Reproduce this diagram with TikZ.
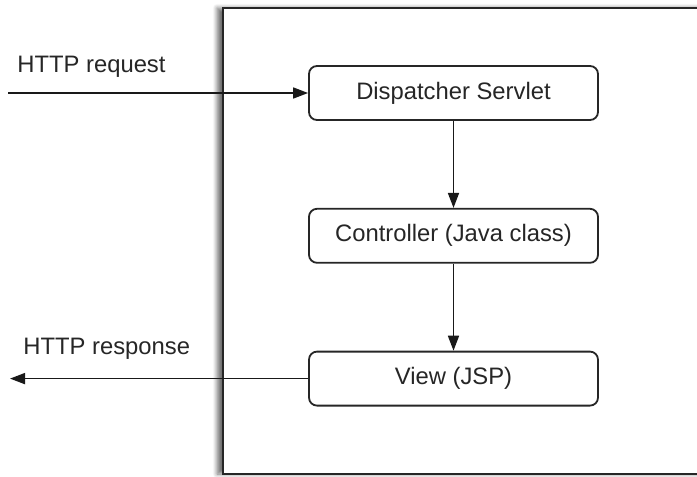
\documentclass[tikz,border=0pt]{standalone}
\usepackage{fontspec}
\setmainfont{Liberation Sans}
\usepackage{tikz}
\usetikzlibrary{arrows.meta, positioning, shadows.blur}
\tikzstyle{layer} = [rectangle, rounded corners=4pt, minimum width=144.5pt, minimum height=27pt, text centered, draw=black!85, line width=0.9pt, fill=white, text=black!85]
\tikzstyle{msg} = [inner sep=0pt, anchor=west, text=black!85]
\tikzstyle{frame} = [draw=black!85, line width=1.1pt, fill=white, blur shadow={shadow xshift=-3pt, shadow yshift=0pt, shadow blur steps=6, shadow opacity=55}]
\tikzstyle{arrow} = [line width=0.85pt, draw=black!90, -{Triangle[length=7.5pt,width=5.5pt]}]

\begin{document}
\begin{tikzpicture}[x=0.5pt, y=-0.5pt, node distance=43.5pt, font=\fontsize{11.9}{14}\selectfont]
            \useasboundingbox (0,0) rectangle (697,477);
            \clip (0,0) rectangle (697,477);
            \draw[frame] (223,8) rectangle (730,474);

            \node[layer] (dispatcher) at (453.5,93) {Dispatcher Servlet};
            \node[layer, below=of dispatcher] (controller) {Controller (Java class)};
            \node[layer, below=of controller] (view) {View (JSP)};
            \node[msg] (request) at (17,67) {HTTP request};
            \node[msg] (response) at (23,349) {HTTP response};
            \coordinate (client in) at (8,93);
            \coordinate (client out) at (10,375);

            \draw[arrow] (client in) -- (dispatcher);
            \draw[arrow] (dispatcher) -- (controller);
            \draw[arrow] (controller) -- (view);
            \draw[arrow] (view) -- (view -| client out);
        \end{tikzpicture}
\end{document}
